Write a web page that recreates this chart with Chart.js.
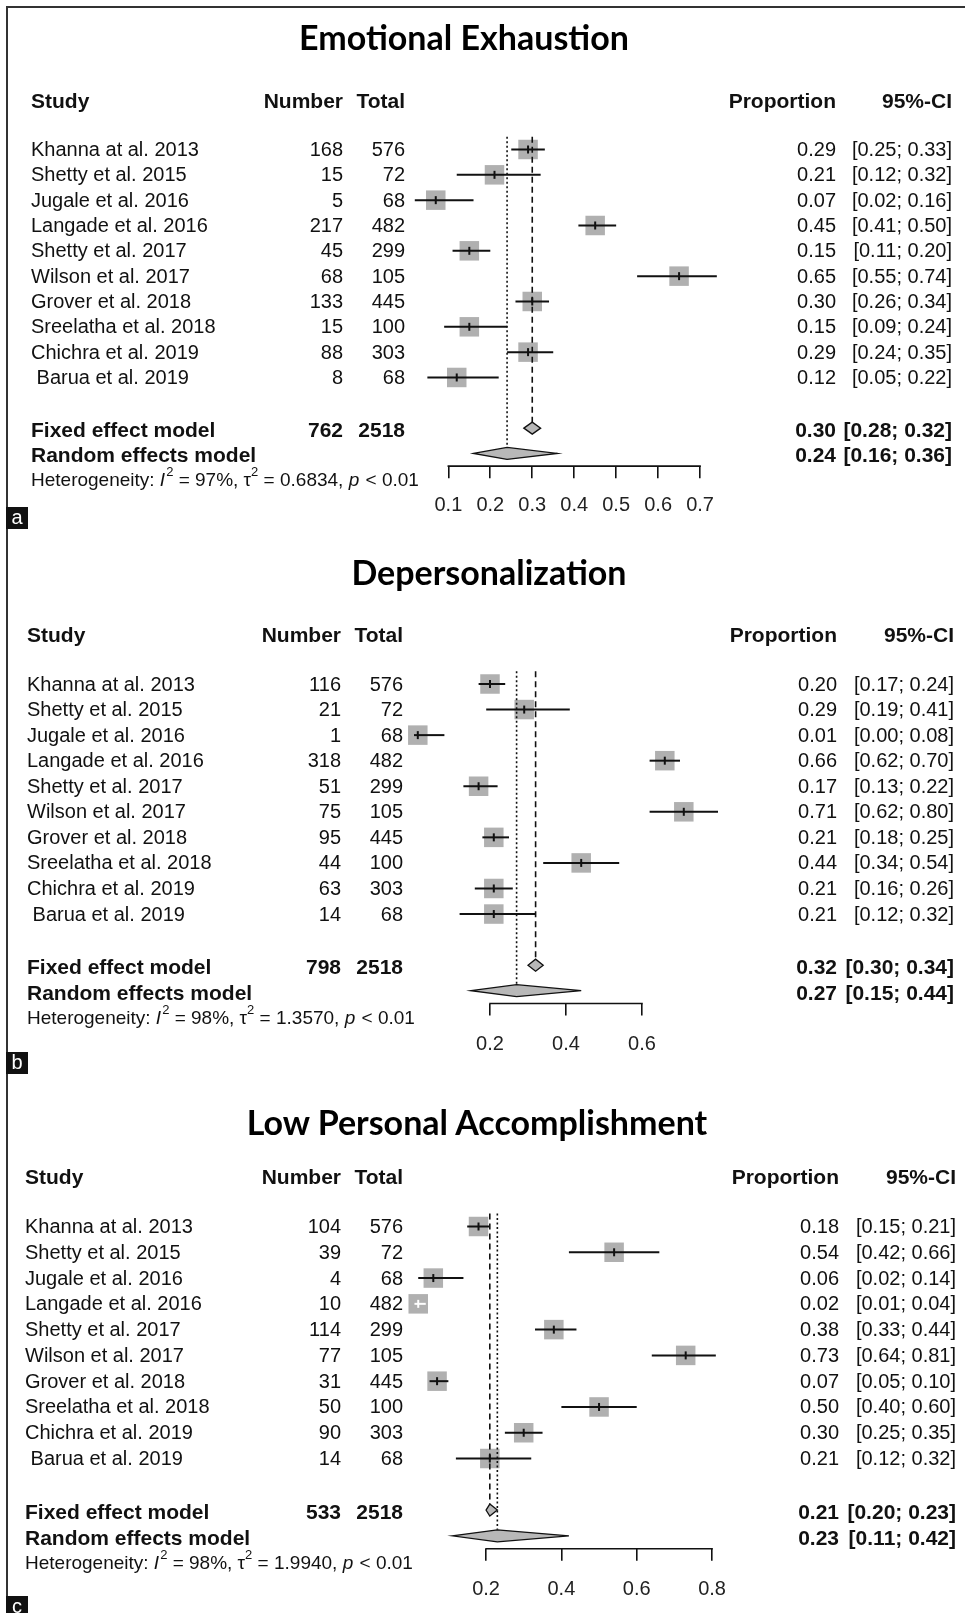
<!DOCTYPE html>
<html>
<head>
<meta charset="utf-8">
<title>Burnout forest plots</title>
<script src="https://cdn.jsdelivr.net/npm/chart.js@4.4.1/dist/chart.umd.min.js"></script>
<style>
  body { margin: 0; background: #fff; }
  #page { position: relative; width: 965px; height: 1613px; overflow: hidden; background: #fff; }
  #frame { position: absolute; left: 6px; top: 6px; right: -4px; bottom: -4px; border-left: 2px solid #333; border-top: 2px solid #333; }
  canvas { position: absolute; left: 0; }
  .title { position: absolute; font-family: Lato, "Open Sans", sans-serif; font-weight: 700; font-size: 34px; color: #000; transform: translate(-50%, -50%); white-space: nowrap; }
  .tag { position: absolute; left: 6px; width: 22px; height: 22px; background: #111; color: #fff; font: 20px "Liberation Sans", Arial, sans-serif; line-height: 20px; text-align: center; }
</style>
</head>
<body>
<div id="page">
  <div id="frame"></div>
  <canvas id="eeChart" width="965" height="540" style="top:0px"></canvas>
  <canvas id="dpChart" width="965" height="545" style="top:540px"></canvas>
  <canvas id="lpaChart" width="965" height="528" style="top:1085px"></canvas>
  <div class="title" style="left:464px; top:36px">Emotional Exhaustion</div>
  <div class="title" style="left:489px; top:571px">Depersonalization</div>
  <div class="title" style="left:477px; top:1121px">Low Personal Accomplishment</div>
  <div class="tag" style="top:507px">a</div>
  <div class="tag" style="top:1052px">b</div>
  <div class="tag" style="top:1596px">c</div>
</div>
<script>
// same studies in every panel
const studies = ["Khanna at al. 2013", "Shetty et al. 2015", "Jugale et al. 2016", "Langade et al. 2016", "Shetty et al. 2017",
  "Wilson et al. 2017", "Grover et al. 2018", "Sreelatha et al. 2018", "Chichra et al. 2019", " Barua et al. 2019"];
const totals = [576, 72, 68, 482, 299, 105, 445, 100, 303, 68];

// a - emotional exhaustion
const eeEvents = [168, 15, 5, 217, 45, 68, 133, 15, 88, 8];
const eeProp = [0.29, 0.21, 0.07, 0.45, 0.15, 0.65, 0.30, 0.15, 0.29, 0.12];
const eeLower = [0.25, 0.12, 0.02, 0.41, 0.11, 0.55, 0.26, 0.09, 0.24, 0.05];
const eeUpper = [0.33, 0.32, 0.16, 0.50, 0.20, 0.74, 0.34, 0.24, 0.35, 0.22];
const eeFixed = [0.30, 0.28, 0.32];   // estimate, lower, upper
const eeRandom = [0.24, 0.16, 0.36];
const eeHet = ["97%", "0.6834", "< 0.01"];
const eeTicks = [0.1, 0.2, 0.3, 0.4, 0.5, 0.6, 0.7];

// b - depersonalization
const dpEvents = [116, 21, 1, 318, 51, 75, 95, 44, 63, 14];
const dpProp = [0.20, 0.29, 0.01, 0.66, 0.17, 0.71, 0.21, 0.44, 0.21, 0.21];
const dpLower = [0.17, 0.19, 0.00, 0.62, 0.13, 0.62, 0.18, 0.34, 0.16, 0.12];
const dpUpper = [0.24, 0.41, 0.08, 0.70, 0.22, 0.80, 0.25, 0.54, 0.26, 0.32];
const dpFixed = [0.32, 0.30, 0.34];
const dpRandom = [0.27, 0.15, 0.44];
const dpHet = ["98%", "1.3570", "< 0.01"];
const dpTicks = [0.2, 0.4, 0.6];

// c - low personal accomplishment
const lpaEvents = [104, 39, 4, 10, 114, 77, 31, 50, 90, 14];
const lpaProp = [0.18, 0.54, 0.06, 0.02, 0.38, 0.73, 0.07, 0.50, 0.30, 0.21];
const lpaLower = [0.15, 0.42, 0.02, 0.01, 0.33, 0.64, 0.05, 0.40, 0.25, 0.12];
const lpaUpper = [0.21, 0.66, 0.14, 0.04, 0.44, 0.81, 0.10, 0.60, 0.35, 0.32];
const lpaFixed = [0.21, 0.20, 0.23];
const lpaRandom = [0.23, 0.11, 0.42];
const lpaHet = ["98%", "1.9940", "< 0.01"];
const lpaTicks = [0.2, 0.4, 0.6, 0.8];

const FONT = '"Liberation Sans", Arial, sans-serif';
const INK = "#111";
const SQ = 19.5; // square side in px

const sum = (a) => a.reduce((s, v) => s + v, 0);
const ci = (lo, hi) => "[" + lo.toFixed(2) + "; " + hi.toFixed(2) + "]";

function vline(ctx, x, y0, y1) { ctx.beginPath(); ctx.moveTo(x, y0); ctx.lineTo(x, y1); ctx.stroke(); }
function hline(ctx, x0, x1, y) { ctx.beginPath(); ctx.moveTo(x0, y); ctx.lineTo(x1, y); ctx.stroke(); }

function diamond(ctx, x, yy, est) {
  const l = x.getPixelForValue(est[1]), m = x.getPixelForValue(est[0]), r = x.getPixelForValue(est[2]);
  ctx.beginPath();
  ctx.moveTo(l, yy); ctx.lineTo(m, yy - 6); ctx.lineTo(r, yy); ctx.lineTo(m, yy + 6); ctx.closePath();
  ctx.fillStyle = "#b8b8b8"; ctx.fill();
  ctx.strokeStyle = INK; ctx.lineWidth = 1.3; ctx.stroke();
}

function drawHet(ctx, x0, yy, het) {
  const parts = [["Heterogeneity: ", "n"], ["I", "i"], ["2", "s"], [" = " + het[0] + ", ", "n"], ["\u03c4", "n"], ["2", "s"],
    [" = " + het[1] + ", ", "n"], ["p", "i"], [" " + het[2], "n"]];
  let cx = x0;
  parts.forEach(([t, k]) => {
    ctx.font = k === "i" ? "italic 19px " + FONT : k === "s" ? "13px " + FONT : "19px " + FONT;
    ctx.fillText(t, cx, k === "s" ? yy - 8 : yy);
    cx += ctx.measureText(t).width + (k === "i" ? 1 : 0);
  });
}

function forestLayer(p) {
  return {
    id: "forest",
    afterDatasetsDraw(chart) {
      const { ctx, scales: { x, y } } = chart;
      ctx.save();
      // pooled lines: fixed dashed, random dotted
      ctx.strokeStyle = INK; ctx.lineWidth = 1.6;
      ctx.setLineDash([6, 4]);
      vline(ctx, x.getPixelForValue(p.fixed[0]), y.getPixelForValue(-0.5), y.getPixelForValue(11) - 6);
      ctx.setLineDash([2, 2.5]);
      vline(ctx, x.getPixelForValue(p.random[0]), y.getPixelForValue(-0.5), y.getPixelForValue(12) - 6);
      ctx.setLineDash([]);
      // confidence intervals + centre tick
      p.prop.forEach((est, i) => {
        const yy = y.getPixelForValue(i);
        const x0 = x.getPixelForValue(p.lower[i]), x1 = x.getPixelForValue(p.upper[i]);
        ctx.strokeStyle = (x1 - x0 < SQ - 5) ? "#fff" : INK;
        ctx.lineWidth = 2;
        hline(ctx, x0, x1, yy);
        vline(ctx, x.getPixelForValue(est), yy - 4, yy + 4);
      });
      diamond(ctx, x, y.getPixelForValue(11), p.fixed);
      diamond(ctx, x, y.getPixelForValue(12), p.random);
      ctx.restore();
    },
    afterDraw(chart) {
      const { ctx, chartArea, scales: { x, y } } = chart;
      const c = p.cols;
      ctx.save();
      // axis line between first and last tick
      ctx.strokeStyle = INK; ctx.lineWidth = 1.6;
      hline(ctx, x.getPixelForValue(p.ticks[0]) - 0.8, x.getPixelForValue(p.ticks[p.ticks.length - 1]) + 0.8, chartArea.bottom);

      ctx.fillStyle = INK;
      ctx.textBaseline = "middle";
      const put = (t, px, py, align) => { ctx.textAlign = align; ctx.fillText(t, px, py); };

      // header
      ctx.font = "bold 21px " + FONT;
      const hy = y.getPixelForValue(-1.95) + 2;
      put("Study", c[0], hy, "left");
      put("Number", c[1], hy, "right");
      put("Total", c[2], hy, "right");
      put("Proportion", c[3], hy, "right");
      put("95%-CI", c[4], hy, "right");

      // studies
      ctx.font = "20px " + FONT;
      studies.forEach((s, i) => {
        const yy = y.getPixelForValue(i) + 1;
        put(s, c[0], yy, "left");
        put(String(p.events[i]), c[1], yy, "right");
        put(String(totals[i]), c[2], yy, "right");
        put(p.prop[i].toFixed(2), c[3], yy, "right");
        put(ci(p.lower[i], p.upper[i]), c[4], yy, "right");
      });

      // pooled rows
      ctx.font = "bold 21px " + FONT;
      const fy = y.getPixelForValue(11) + 3, ry = y.getPixelForValue(12) + 3;
      put("Fixed effect model", c[0], fy, "left");
      put(String(sum(p.events)), c[1], fy, "right");
      put(String(sum(totals)), c[2], fy, "right");
      put(p.fixed[0].toFixed(2), c[3], fy, "right");
      put(ci(p.fixed[1], p.fixed[2]), c[4], fy, "right");
      put("Random effects model", c[0], ry, "left");
      put(p.random[0].toFixed(2), c[3], ry, "right");
      put(ci(p.random[1], p.random[2]), c[4], ry, "right");

      ctx.textAlign = "left";
      drawHet(ctx, c[0], y.getPixelForValue(13) + 2, p.het);
      ctx.restore();
    }
  };
}

function makeForest(canvasId, p) {
  const g = p.geo;
  const chartTop = g.row0 - g.pitch - g.top;              // y scale min is -1
  const chartBottom = g.row0 + 12.5 * g.pitch - g.top;    // y scale max is 12.5
  const axisH = 12 + g.tickPad + 24;
  return new Chart(document.getElementById(canvasId), {
    type: "scatter",
    data: {
      datasets: [{
        data: p.prop.map((v, i) => ({ x: v, y: i })),
        pointStyle: "rect",
        pointRadius: SQ / (2 * Math.SQRT1_2),
        pointHoverRadius: SQ / (2 * Math.SQRT1_2),
        backgroundColor: "#b0b0b0",
        borderWidth: 0,
        clip: false
      }]
    },
    options: {
      responsive: false,
      animation: false,
      events: [],
      layout: {
        padding: {
          left: g.x0,
          right: 965 - (g.x0 + g.xMax * g.ppu),
          top: chartTop,
          bottom: g.height - chartBottom - axisH
        }
      },
      plugins: { legend: { display: false }, tooltip: { enabled: false } },
      scales: {
        x: {
          type: "linear",
          min: 0,
          max: g.xMax,
          afterBuildTicks: (scale) => { scale.ticks = p.ticks.map((v) => ({ value: v })); },
          afterFit: (scale) => { scale.height = axisH; },
          border: { display: false },
          grid: { drawOnChartArea: false, drawTicks: true, tickLength: 12, color: INK, lineWidth: 1.6 },
          ticks: {
            autoSkip: false, maxRotation: 0, padding: g.tickPad, color: "#222",
            font: { family: FONT, size: 20, lineHeight: 1.2 },
            callback: (v) => Number(v).toFixed(1)
          }
        },
        y: { type: "linear", min: -1, max: 12.5, reverse: true, display: false }
      }
    },
    plugins: [forestLayer(p)]
  });
}

makeForest("eeChart", {
  events: eeEvents, prop: eeProp, lower: eeLower, upper: eeUpper, fixed: eeFixed, random: eeRandom, het: eeHet, ticks: eeTicks,
  cols: [31, 343, 405, 836, 952],
  geo: { top: 0, height: 540, x0: 406.4, ppu: 419.5, xMax: 0.8, row0: 149.5, pitch: 25.33, tickPad: 15 }
});
makeForest("dpChart", {
  events: dpEvents, prop: dpProp, lower: dpLower, upper: dpUpper, fixed: dpFixed, random: dpRandom, het: dpHet, ticks: dpTicks,
  cols: [27, 341, 403, 837, 954],
  geo: { top: 540, height: 545, x0: 414, ppu: 380, xMax: 0.8, row0: 684, pitch: 25.56, tickPad: 17 }
});
makeForest("lpaChart", {
  events: lpaEvents, prop: lpaProp, lower: lpaLower, upper: lpaUpper, fixed: lpaFixed, random: lpaRandom, het: lpaHet, ticks: lpaTicks,
  cols: [25, 341, 403, 839, 956],
  geo: { top: 1085, height: 528, x0: 410.7, ppu: 376.7, xMax: 0.8, row0: 1226.5, pitch: 25.78, tickPad: 17 }
});
</script>
</body>
</html>
